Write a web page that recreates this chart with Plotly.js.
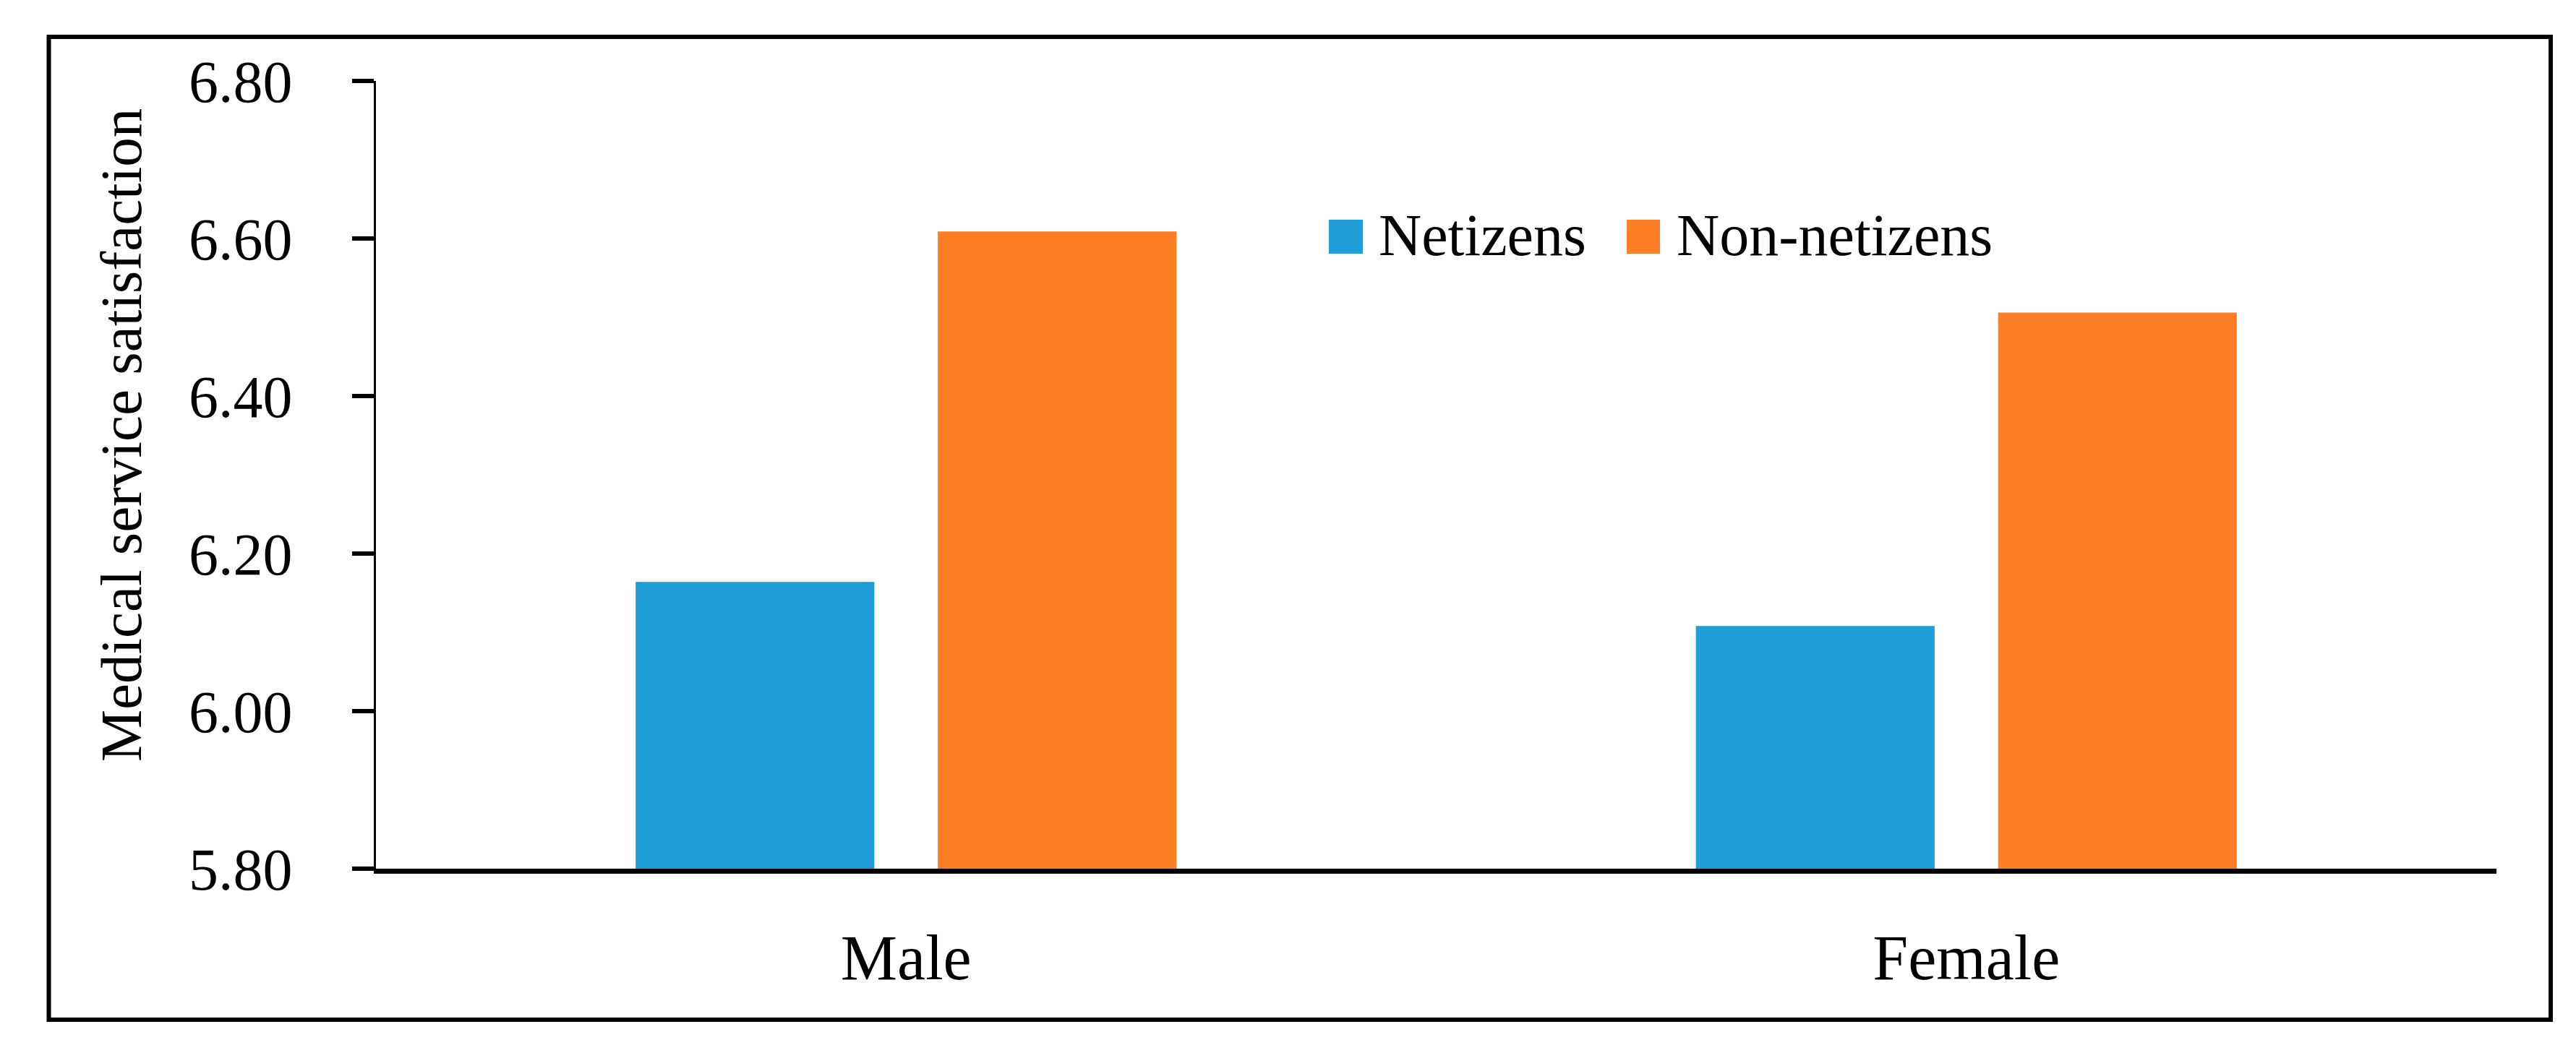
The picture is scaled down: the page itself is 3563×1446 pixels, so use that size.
<!DOCTYPE html>
<html>
<head>
<meta charset="utf-8">
<script src="https://cdn.plot.ly/plotly-3.0.1.min.js"></script>
<style>
html,body{margin:0;padding:0;background:#fff;}
#chart{width:3563px;height:1446px;}
</style>
</head>
<body>
<div id="chart"></div>
<script>
// ---- data ----
const categories = ['Male', 'Female'];
const seriesNames = ['Netizens', 'Non-netizens'];
const netizens = [6.164, 6.108];
const nonNetizens = [6.609, 6.506];
const yTickVals = [5.80, 6.00, 6.20, 6.40, 6.60, 6.80];
const yTickText = ['5.80', '6.00', '6.20', '6.40', '6.60', '6.80'];
const yTitle = 'Medical service satisfaction';
const seriesColors = ['#1E9DD8', '#FF7F27'];

// ---- layout geometry (pixels) ----
const W = 3563, H = 1446;
const L = 520, R = 3453, T = 112, B = 1202;
function px(x) { return (x - L) / (R - L); }
function py(y) { return (B - y) / (B - T); }
const FONT = 'Liberation Serif, Times New Roman, serif';

const traces = [
  { type: 'bar', name: seriesNames[0], x: categories, y: netizens,
    marker: { color: seriesColors[0] }, showlegend: false, hoverinfo: 'x+y+name' },
  { type: 'bar', name: seriesNames[1], x: categories, y: nonNetizens,
    marker: { color: seriesColors[1] }, showlegend: false, hoverinfo: 'x+y+name' }
];

const legendSq = [[1838, 1885], [2250, 2296]];
const legendTextX = [1905, 2317];
const legendTop = 304, legendBot = 351, legendMid = 325;

const shapes = [
  // outer frame
  { type: 'rect', xref: 'paper', yref: 'paper',
    x0: px(67.5), x1: px(3528), y0: py(1411), y1: py(51),
    line: { color: '#000', width: 6 }, fillcolor: 'rgba(0,0,0,0)' }
];
const annotations = [
  { xref: 'paper', yref: 'paper', x: px(168), y: py(602), text: yTitle,
    textangle: -90, showarrow: false, xanchor: 'center', yanchor: 'middle',
    font: { family: FONT, size: 81, color: '#000' } }
];
for (let i = 0; i < seriesNames.length; i++) {
  shapes.push({ type: 'rect', xref: 'paper', yref: 'paper',
    x0: px(legendSq[i][0]), x1: px(legendSq[i][1]), y0: py(legendBot), y1: py(legendTop),
    line: { width: 0 }, fillcolor: seriesColors[i] });
  annotations.push({ xref: 'paper', yref: 'paper', x: px(legendTextX[i]), y: py(legendMid),
    text: seriesNames[i], showarrow: false, xanchor: 'left', yanchor: 'middle',
    font: { family: FONT, size: 82, color: '#000' } });
}

const layout = {
  width: W, height: H,
  margin: { l: L, r: W - R, t: T, b: H - B, pad: 0 },
  paper_bgcolor: '#fff', plot_bgcolor: '#fff',
  showlegend: false,
  barmode: 'group', bargap: 0.43, bargroupgap: 0.21,
  font: { family: FONT, color: '#000' },
  xaxis: {
    type: 'category', showline: true, linewidth: 7, linecolor: '#000',
    ticks: '', showgrid: false, zeroline: false,
    tickfont: { family: FONT, size: 88, color: '#000' },
    ticklabelstandoff: 40
  },
  yaxis: {
    range: [5.8, 6.8], showline: true, linewidth: 3, linecolor: '#000',
    ticks: 'outside', ticklen: 30, tickwidth: 6, tickcolor: '#000',
    tickvals: yTickVals, ticktext: yTickText,
    showgrid: false, zeroline: false,
    tickfont: { family: FONT, size: 82, color: '#000' },
    ticklabelstandoff: 66
  },
  shapes: shapes,
  annotations: annotations
};

Plotly.newPlot('chart', traces, layout, { staticPlot: true, displayModeBar: false });
</script>
</body>
</html>
